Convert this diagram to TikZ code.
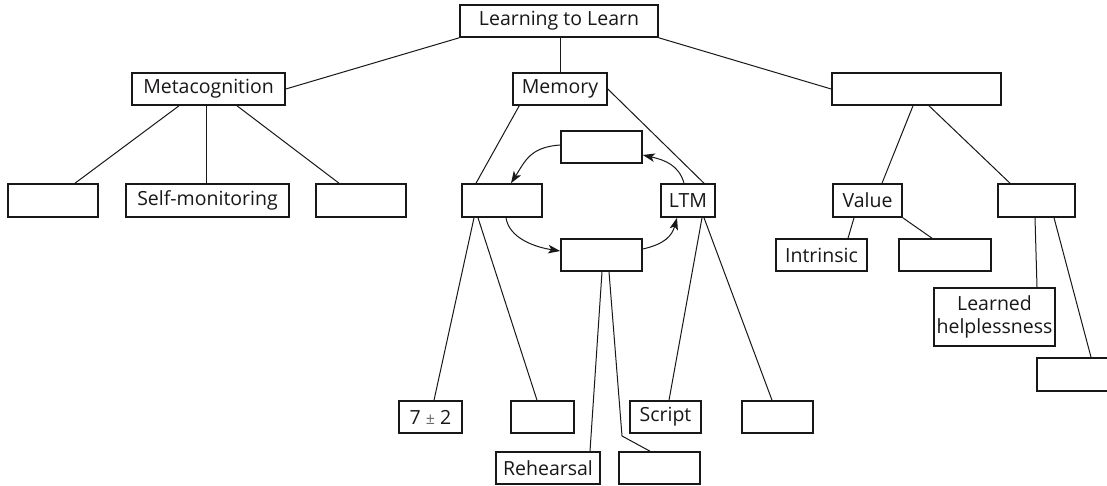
\documentclass[tikz,border=0pt]{standalone}
\usepackage{fontspec}
\setmainfont{Open Sans}
\usetikzlibrary{arrows.meta}
\definecolor{ink}{HTML}{1A1718}
\begin{document}
\begin{tikzpicture}[x=1pt,y=-1pt,
  box/.style={draw=ink, line width=1.6pt, fill=white, inner sep=0pt,
    text=ink, font=\fontsize{19.5}{23}\selectfont, align=center},
  link/.style={draw=ink, line width=1pt},
  flow/.style={draw=ink, line width=1pt,
    -{Stealth[length=12pt,width=8.5pt,inset=3pt]}}]
\clip (0,0) rectangle (1107,485);
\fill[white] (0,0) rectangle (1107,485);

% top level
\node[box, minimum width=198pt, minimum height=32pt] (learn) at (559,21) {Learning to Learn};
\node[box, minimum width=153pt, minimum height=32pt] (meta) at (208.5,89) {Metacognition};
\node[box, minimum width=94pt, minimum height=32pt] (mem) at (560,89) {Memory};
\node[box, minimum width=169pt, minimum height=32pt] (mot) at (916.5,89) {};

% metacognition branch
\node[box, minimum width=90pt, minimum height=33pt] (mca) at (53,200.5) {};
\node[box, minimum width=163pt, minimum height=33pt] (selfm) at (207.5,200.5) {Self-monitoring};
\node[box, minimum width=90pt, minimum height=33pt] (mcc) at (361,200.5) {};

% memory cycle
\node[box, minimum width=80pt, minimum height=33pt] (sens) at (502,200.5) {};
\node[box, minimum width=81pt, minimum height=32pt] (cyctop) at (601.5,147) {};
\node[box, minimum width=54pt, minimum height=33pt] (ltm) at (688,200.5) {LTM};
\node[box, minimum width=81pt, minimum height=32pt] (cycbot) at (601.5,255) {};

% memory leaves
\node[box, minimum width=63pt, minimum height=32pt] (seven) at (430.5,417) {7 {\color{ink!65}\fontsize{16}{16}\selectfont ±} 2};
\node[box, minimum width=63pt, minimum height=32pt] (sensb) at (542.5,417) {};
\node[box, minimum width=71pt, minimum height=32pt] (script) at (665.5,417) {Script};
\node[box, minimum width=71pt, minimum height=32pt] (ltmb) at (777.5,417) {};
\node[box, minimum width=104pt, minimum height=32pt] (reh) at (548,468) {Rehearsal};
\node[box, minimum width=81pt, minimum height=32pt] (cycb) at (659.5,468) {};
\coordinate (bend) at (622,436);

% right branch
\node[box, minimum width=69pt, minimum height=33pt] (value) at (867.5,200.5) {Value};
\node[box, minimum width=77pt, minimum height=33pt] (motb) at (1036.5,200.5) {};
\node[box, minimum width=91pt, minimum height=32pt] (intr) at (821.5,255) {Intrinsic};
\node[box, minimum width=92pt, minimum height=32pt] (valb) at (945,255) {};
\node[box, minimum width=121pt, minimum height=58pt] (lh) at (994.5,317) {Learned\\helplessness};
\node[box, minimum width=83pt, minimum height=33pt] (lastb) at (1078.5,374.5) {};

% tree links
\draw[link] (meta.east) -- (learn.south west);
\draw[link] ([xshift=1pt]learn.south) -- (mem.north);
\draw[link] (learn.south east) -- (mot.west);

\draw[link] ([xshift=-29.5pt]meta.south) -- ([xshift=22pt]mca.north);
\draw[link] ([xshift=-2.5pt]meta.south) -- ([xshift=-1.5pt]selfm.north);
\draw[link] ([xshift=28.5pt]meta.south) -- ([xshift=-22pt]mcc.north);

\draw[link] ([xshift=7pt]mem.south west) -- ([xshift=-26pt]sens.north);
\draw[link] (mem.east) -- ([xshift=16pt]ltm.north);

\draw[link] ([xshift=-28pt]sens.south) -- ([xshift=3.5pt]seven.north);
\draw[link] ([xshift=-24pt]sens.south) -- ([xshift=-5.5pt]sensb.north);
\draw[link] ([xshift=0.5pt]cycbot.south) -- ([xshift=42pt]reh.north);
\draw[link] ([xshift=7.5pt]cycbot.south) -- (bend) -- ([xshift=-9.5pt]cycb.north);
\draw[link] ([xshift=14pt]ltm.south) -- ([xshift=3.5pt]script.north);
\draw[link] ([xshift=16pt]ltm.south) -- ([xshift=-5.5pt]ltmb.north);

\draw[link] ([xshift=-3.5pt]mot.south) -- ([xshift=14.5pt]value.north);
\draw[link] ([xshift=12.5pt]mot.south) -- ([xshift=-26.5pt]motb.north);
\draw[link] ([xshift=-13.5pt]value.south) -- ([xshift=26.5pt]intr.north);
\draw[link] (value.south east) -- ([xshift=-13pt]valb.north);
\draw[link] ([xshift=-1.5pt]motb.south) -- ([xshift=42.5pt]lh.north);
\draw[link] ([xshift=17.5pt]motb.south) -- ([xshift=12.5pt]lastb.north);

% memory cycle arrows
\draw[flow] ([yshift=2pt]cyctop.west) .. controls +(-30,2) and +(14,-22) .. ([xshift=9pt]sens.north);
\draw[flow] ([xshift=4pt]sens.south) .. controls +(3,20) and +(-26,-4) .. ([yshift=4pt]cycbot.west);
\draw[flow] ([yshift=6pt]cycbot.east) .. controls +(22,-5) and +(-5,18) .. ([xshift=-11pt]ltm.south);
\draw[flow] ([xshift=-4pt]ltm.north) .. controls +(-5,-18) and +(22,5) .. ([yshift=-8pt]cyctop.east);
\end{tikzpicture}
\end{document}
